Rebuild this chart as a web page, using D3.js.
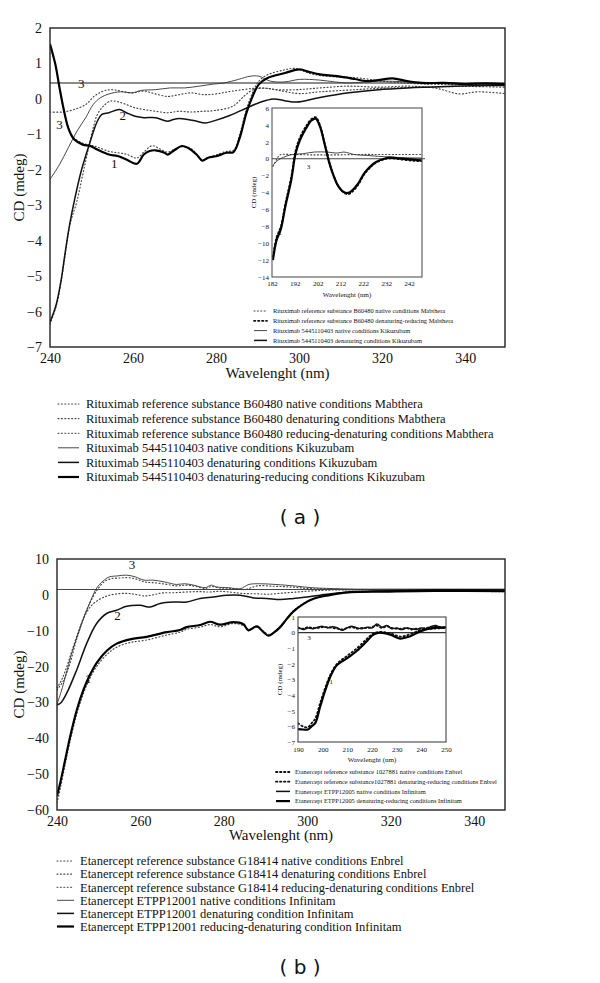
<!DOCTYPE html>
<html>
<head>
<meta charset="utf-8">
<script src="https://cdn.jsdelivr.net/npm/d3@7/dist/d3.min.js"></script>
<style>
  body { margin: 0; background: #fff; }
  svg text { font-family: "Liberation Serif", "DejaVu Serif", serif; fill: #111; }
</style>
</head>
<body>
<script>
// ---------- panel (a): rituximab, main spectra (wavelength nm, CD mdeg) ----------
const aMabNat = [[240,-0.37],[243,-0.37],[245.8,-0.3],[248.6,-0.16],[250.7,0.08],[252.8,0.22],[254.9,0.26],[257,0.22],[259.8,0.17],[262.6,0.22],[265.4,0.14],[268.3,0.07],[271.1,0.12],[273.9,0.17],[277,0.12],[280,0.14],[284,0.22],[291,0.31],[294.5,0.26],[299.4,0.26],[305,0.31],[312,0.36],[319.1,0.33],[326.1,0.36],[333,0.3],[338.6,0.14],[343,0.2],[349.6,0.15]];
const aMabDen = [[240,-6.35],[241.5,-5.85],[242.7,-5.15],[243.7,-4.35],[244.8,-3.55],[246.5,-2.88],[247.9,-2.13],[249.3,-1.38],[250.4,-0.82],[251.4,-0.44],[252.8,-0.21],[254.6,-0.06],[256.3,-0.08],[258.4,-0.16],[260.5,-0.25],[262.6,-0.3],[265.4,-0.35],[268.3,-0.39],[271.1,-0.35],[273.9,-0.37],[276.7,-0.35],[279.5,-0.33],[284,-0.21],[286.8,0.08],[288.9,0.26],[292,0.3],[296,0.22],[300,0.15],[305,0.2],[312,0.25],[320,0.3],[330,0.33],[340,0.35],[349.6,0.33]];
const aMabRedDen = [[240,1.5],[241.3,0.95],[242.3,0.3],[243.4,-0.35],[244.4,-0.8],[245.8,-1.1],[247.9,-1.25],[249.7,-1.3],[251.4,-1.36],[254.2,-1.48],[256.3,-1.52],[258.4,-1.56],[260.9,-1.67],[262.6,-1.5],[264.6,-1.32],[266.3,-1.4],[268.3,-1.5],[270.3,-1.4],[271.8,-1.35],[273.9,-1.4],[275.3,-1.55],[276.7,-1.72],[278.1,-1.65],[280,-1.58],[282.5,-1.48],[284.2,-1.45],[285.7,-1.0],[287.3,-0.3],[288.9,0.2],[290.3,0.5],[292.4,0.68],[296.6,0.82],[299,0.86],[302.5,0.72],[305,0.66],[309.2,0.62],[313.4,0.6],[317,0.55],[320,0.5],[325,0.45],[330,0.42],[340,0.4],[349.6,0.4]];
const aKikNat = [[240,-2.27],[242.3,-1.85],[244.4,-1.38],[246.5,-0.91],[248.6,-0.53],[250.4,-0.16],[252.1,0.03],[254.2,0.14],[257,0.2],[259.8,0.17],[262,0.24],[265.4,0.26],[269,0.31],[272.5,0.31],[276,0.36],[279.5,0.42],[282,0.45],[285.4,0.55],[288.2,0.64],[290.3,0.64],[293.1,0.5],[296.6,0.48],[300.1,0.55],[305,0.53],[308.5,0.48],[312,0.45],[319.1,0.5],[326.1,0.48],[335.2,0.43],[342,0.42],[349.6,0.4]];
const aKikDen = [[240,-6.3],[241.5,-5.8],[242.7,-5.1],[243.7,-4.3],[244.8,-3.5],[246,-2.8],[247.6,-2.0],[249.7,-1.2],[251.4,-0.63],[252.5,-0.44],[254.2,-0.39],[256.7,-0.3],[258.4,-0.39],[260.5,-0.49],[262.6,-0.53],[265.4,-0.53],[268.3,-0.63],[269.7,-0.58],[271.1,-0.55],[273.2,-0.58],[275.3,-0.63],[277.4,-0.68],[279.5,-0.62],[283.3,-0.47],[287.5,-0.25],[290.5,-0.1],[293.8,0.0],[296.5,-0.05],[299.4,-0.09],[304.7,0.03],[312,0.17],[319.1,0.26],[326.1,0.31],[335.2,0.35],[342,0.37],[349.6,0.38]];
const aKikDenRed = [[240,1.55],[241.3,0.97],[242.3,0.31],[243.4,-0.35],[244.4,-0.82],[245.8,-1.14],[247.9,-1.29],[249.7,-1.33],[251.4,-1.43],[254.2,-1.57],[256.3,-1.61],[258.4,-1.71],[260.9,-1.83],[262.6,-1.57],[264,-1.47],[265.4,-1.45],[267.6,-1.52],[268.3,-1.57],[269.7,-1.47],[271.8,-1.33],[273.2,-1.38],[275.3,-1.57],[276.7,-1.74],[278.1,-1.66],[280,-1.62],[282.5,-1.52],[284.2,-1.5],[285.7,-1.1],[287.3,-0.4],[288.9,0.1],[290.3,0.41],[292.4,0.59],[296.6,0.73],[300.1,0.83],[302.5,0.76],[305,0.69],[309.2,0.64],[313.4,0.56],[316.2,0.5],[319,0.53],[322.5,0.58],[326,0.5],[329.5,0.45],[335,0.45],[340,0.42],[345,0.44],[349.6,0.42]];
const aBaseline = 0.45;

// ---------- panel (a) inset ----------
const aInMabNat = [[182.4,-0.9],[184,-0.1],[185.5,0.45],[190,0.5],[200,0.45],[210,0.45],[220,0.5],[230,0.5],[240,0.5],[248.5,0.5]];
const aInMabDenRed = [[182.4,-11.6],[184,-9.3],[185.9,-8.0],[187.8,-5.4],[190.4,-2.2],[192.3,0.9],[194.2,2.5],[196.8,3.8],[199.3,4.7],[201.2,4.9],[203.1,3.9],[205,1.9],[207,-0.3],[208.9,-1.9],[210.8,-3.1],[213.4,-4.0],[215.3,-4.2],[217.2,-3.9],[219.7,-3.1],[222.3,-1.9],[224.8,-1.1],[227.4,-0.5],[231.2,-0.05],[233.8,0.05],[238.8,-0.1],[244,-0.25],[247.7,-0.3]];
const aInKikNat = [[182.4,-0.79],[184.5,-0.2],[187,0.16],[190.4,0.47],[195.5,0.59],[200.6,0.79],[205.7,0.79],[210.8,0.67],[213.4,0.79],[218.5,0.47],[223.6,0.39],[228.7,0.28],[233.8,0.2],[240.1,0.12],[247.7,0.08]];
const aInKikDenRed = [[182.4,-12.0],[184,-9.65],[185.9,-8.3],[187.8,-5.71],[190.4,-2.56],[192.3,0.59],[194.2,2.16],[196.8,3.54],[199.3,4.52],[201.2,4.72],[203.1,3.73],[205,1.77],[207,-0.4],[208.9,-1.97],[210.8,-3.15],[213.4,-3.94],[215.3,-4.05],[217.2,-3.74],[219.7,-2.95],[222.3,-1.77],[224.8,-1.0],[227.4,-0.4],[231.2,0],[233.8,0.12],[238.8,0.0],[244,-0.12],[247.7,-0.2]];

// ---------- panel (b): etanercept, main spectra ----------
const bEnbNat = [[240,-26],[241.2,-23.5],[242.5,-19.5],[243.6,-15.5],[245.5,-9.0],[247.6,-3.0],[249.7,1.5],[251.5,3.8],[253,4.5],[255,4.7],[257,4.8],[259,4.4],[261,3.6],[263,3.4],[266,3.0],[268.6,2.5],[271,2.7],[273,2.4],[275.5,1.8],[277,2.3],[279,1.9],[282,1.8],[285,1.5],[288,2.5],[292,2.4],[296,2.2],[300,1.8],[305,1.6],[312,1.4],[320,1.3],[333,1.3],[347.4,1.3]];
const bEnbDen = [[240,-26.5],[241.5,-24],[243,-19.5],[245,-11.3],[247.1,-4.8],[249.2,-2.0],[252,-0.3],[254.6,0.3],[257,0.4],[259,0.1],[261,-0.3],[263,0.0],[265,0.5],[268,0.6],[271,0.8],[274,0.9],[276.6,0.8],[279,1.0],[282,0.7],[285,0.36],[288,0.3],[290.6,0.17],[294,0.5],[297.6,0.8],[301,1.1],[304.6,1.3],[310,1.4],[320,1.4],[333,1.4],[347.4,1.4]];
const bEnbRedDen = [[240,-58],[240.8,-54],[242,-47],[243.2,-40.5],[244.8,-33],[246.4,-27.3],[248,-23],[249.6,-19.8],[252,-16.6],[254.3,-14.6],[257.5,-13.3],[261.5,-12.6],[266.3,-11.2],[269.5,-10.4],[271.1,-9.6],[274.3,-9.0],[276.7,-8.3],[279.1,-8.9],[282.3,-8.0],[284.7,-8.6],[285.9,-9.6],[287.9,-9.0],[289.5,-10.2],[290.7,-11.0],[291.9,-10.5],[293.5,-8.8],[295.1,-6.5],[296.7,-4.4],[299.1,-2.4],[301.5,-1.0],[304.7,0.0],[310.3,0.8],[318.3,1.0],[330.3,1.0],[347.4,0.9]];
const bInfNat = [[240,-30.5],[241,-27],[242.2,-22],[243.4,-16.8],[245.5,-9.4],[247.6,-2.9],[249.7,2.2],[251.5,4.3],[252.5,5.0],[254.6,5.3],[256.7,5.5],[258.8,5.0],[260.9,4.1],[263,4.1],[265.8,3.6],[268.6,2.9],[270.6,3.1],[272.8,2.7],[275.5,2.0],[277,2.7],[278.3,2.2],[281.1,2.0],[283.9,1.7],[286,2.9],[288.8,3.1],[292.3,2.9],[294.8,2.7],[297.6,2.4],[301.1,2.0],[304.6,1.8],[311.6,1.6],[318.5,1.6],[333,1.6],[347.4,1.6]];
const bInfDen = [[240,-30.7],[241,-30],[242.3,-27.5],[244.7,-21],[247.1,-13.6],[249.5,-8.0],[251.9,-5.2],[254.3,-4.3],[256.7,-3.2],[259.9,-2.9],[262.3,-3.4],[264.7,-2.4],[267.9,-2.0],[271.1,-2.0],[274.3,-1.0],[277.5,-0.6],[280.7,-0.1],[283.9,-0.1],[287.1,-0.85],[290.3,-1.0],[293.5,-1.3],[296.7,-1.0],[299.9,-0.6],[303.1,-0.1],[306.3,0.4],[314.3,0.9],[322.3,1.2],[330.3,1.4],[347.4,1.4]];
const bInfRedDen = [[240,-56],[240.8,-52.3],[242,-45.8],[243.2,-39.3],[244.8,-31.9],[246.4,-26.3],[248,-22.1],[249.6,-18.8],[252,-15.5],[254.3,-13.6],[257.5,-12.4],[261.5,-11.7],[266.3,-10.4],[269.5,-9.8],[271.1,-9.0],[274.3,-8.4],[276.7,-7.5],[279.1,-8.3],[282.3,-7.6],[284.7,-8.2],[285.9,-9.9],[287.9,-8.8],[289.5,-10.4],[290.7,-11.4],[291.9,-10.6],[293.5,-9.0],[295.1,-6.7],[296.7,-4.6],[299.1,-2.5],[301.5,-1.1],[304.7,-0.2],[310.3,0.74],[318.3,0.9],[330.3,1.1],[347.4,1.0]];
const bBaseline = 1.5;

// ---------- panel (b) inset ----------
const bInWl = [190,192,194,196,198,200,202,204,206,208,210,212,214,216,218,220,222,224,226,228,230,232,234,236,238,240,242,244,246,248,250];
const bInInfNatCd = [0.35,0.2,0.3,0.25,0.35,0.4,0.3,0.38,0.3,0.15,0.32,0.4,0.3,0.25,0.35,0.3,0.55,0.35,0.45,0.25,0.3,0.2,0.3,0.25,0.2,0.3,0.25,0.4,0.45,0.3,0.35];
const bInEnbNatCd = [0.3,0.25,0.35,0.3,0.3,0.35,0.35,0.3,0.25,0.2,0.3,0.35,0.25,0.3,0.3,0.35,0.45,0.3,0.4,0.3,0.25,0.25,0.3,0.2,0.25,0.25,0.3,0.35,0.4,0.35,0.3];
const bInInfRedDen = [[190,-6.17],[192,-6.2],[194,-6.2],[195.5,-6.0],[197,-5.79],[199,-4.73],[201.1,-3.67],[203.1,-2.82],[205.8,-2.08],[209.8,-1.65],[213.9,-1.16],[217.9,-0.55],[220.6,-0.13],[223.3,0.0],[227.4,-0.13],[231.4,-0.38],[235.5,-0.23],[239.5,0.08],[244.9,0.3],[250,0.34]];
const bInEnbRedDen = [[190,-5.8],[192,-6.0],[194,-6.05],[195.5,-5.8],[197,-5.5],[199,-4.5],[201.1,-3.5],[203.1,-2.7],[205.8,-2.0],[209.8,-1.5],[213.9,-1.0],[217.9,-0.4],[220.6,-0.05],[223.3,0.05],[227.4,-0.05],[231.4,-0.25],[235.5,-0.1],[239.5,0.15],[244.9,0.25],[250,0.3]];

// ---------- text ----------
const aLegend = [
  'Rituximab reference substance B60480 native conditions Mabthera',
  'Rituximab reference substance B60480 denaturing conditions Mabthera',
  'Rituximab reference substance B60480 reducing-denaturing conditions Mabthera',
  'Rituximab 5445110403 native conditions Kikuzubam',
  'Rituximab 5445110403 denaturing conditions Kikuzubam',
  'Rituximab 5445110403 denaturing-reducing conditions Kikuzubam'
];
const aInsetLegend = [
  'Rituximab reference substance B60480 native conditions Mabthera',
  'Rituximab reference substance B60480 denaturing-reducing Mabthera',
  'Rituximab 5445110403 native conditions Kikuzubam',
  'Rituximab 5445110403 denaturing conditions Kikuzubam'
];
const bLegend = [
  'Etanercept reference substance G18414 native conditions Enbrel',
  'Etanercept reference substance G18414 denaturing conditions Enbrel',
  'Etanercept reference substance G18414 reducing-denaturing conditions Enbrel',
  'Etanercept ETPP12001 native conditions Infinitam',
  'Etanercept ETPP12001 denaturing condition Infinitam',
  'Etanercept ETPP12001 reducing-denaturing condition Infinitam'
];
const bInsetLegend = [
  'Etanercept reference substance 1027881 native conditions Enbrel',
  'Etanercept reference substance1027881 denaturing-reducing conditions Enbrel',
  'Etanercept ETPP12005 native conditions Infinitam',
  'Etanercept ETPP12005 denaturing-reducing conditions Infinitam'
];

const SERIF = '"Liberation Serif", "DejaVu Serif", serif';

// line styles
const styles = {
  dot:      { w: 1.15, dash: '1,2.4', c: '#444' },
  dotBold:  { w: 1.8, dash: '1.4,2.6', c: '#111' },
  thin:     { w: 0.9, dash: null, c: '#333' },
  mid:      { w: 1.5, dash: null, c: '#111' },
  thick:    { w: 2.2, dash: null, c: '#000' }
};

const svg = d3.select('body').append('svg')
  .attr('width', 600).attr('height', 983);

let clipId = 0;

function drawPlot(o) {
  const x = d3.scaleLinear().domain(o.xDomain).range([o.left, o.right]);
  const y = d3.scaleLinear().domain(o.yDomain).range([o.bottom, o.top]);
  const g = svg.append('g');
  const id = 'clip' + (clipId++);
  g.append('clipPath').attr('id', id).append('rect')
    .attr('x', o.left).attr('y', o.top)
    .attr('width', o.right - o.left).attr('height', o.bottom - o.top);

  if (o.bg) {
    g.append('rect').attr('x', o.left).attr('y', o.top)
      .attr('width', o.right - o.left).attr('height', o.bottom - o.top)
      .attr('fill', '#fff');
  }

  // reference line
  g.append('line')
    .attr('x1', o.left).attr('x2', o.right + (o.lineOver || 0))
    .attr('y1', y(o.base)).attr('y2', y(o.base))
    .attr('stroke', o.baseColor || '#555').attr('stroke-width', o.baseW || 1.4);

  const line = d3.line().x(d => x(d[0])).y(d => y(d[1])).curve(d3.curveCatmullRom.alpha(0.5));
  const lines = g.append('g').attr('clip-path', `url(#${id})`);
  o.series.forEach(s => {
    const st = styles[s.style];
    lines.append('path').datum(s.data)
      .attr('d', line)
      .attr('fill', 'none')
      .attr('stroke', st.c)
      .attr('stroke-width', st.w)
      .attr('stroke-linecap', st.dash ? 'round' : 'butt')
      .attr('stroke-dasharray', st.dash);
  });

  g.append('rect').attr('x', o.left).attr('y', o.top)
    .attr('width', o.right - o.left).attr('height', o.bottom - o.top)
    .attr('fill', 'none').attr('stroke', o.frameColor || '#222').attr('stroke-width', o.frameW || 1.4);

  const xa = g.append('g').attr('transform', `translate(0,${o.bottom})`)
    .call(d3.axisBottom(x).tickValues(o.xTicks).tickSize(0).tickPadding(o.xPad).tickFormat(d3.format('d')));
  const ya = g.append('g').attr('transform', `translate(${o.left},0)`)
    .call(d3.axisLeft(y).tickValues(o.yTicks).tickSize(0).tickPadding(o.yPad));
  [xa, ya].forEach(a => {
    a.attr('font-family', null).attr('font-size', null);
    a.select('.domain').remove();
    a.selectAll('text').style('font-family', SERIF)
      .style('font-size', o.tickFont + 'px').attr('fill', '#111');
  });

  g.append('text')
    .attr('x', (o.left + o.right) / 2).attr('y', o.xTitleY)
    .attr('text-anchor', 'middle').style('font-size', o.titleFont + 'px')
    .text('Wavelenght (nm)');
  g.append('text')
    .attr('transform', `translate(${o.yTitleX},${(o.top + o.bottom) / 2}) rotate(-90)`)
    .attr('text-anchor', 'middle').style('font-size', o.titleFont + 'px')
    .text('CD (mdeg)');

  (o.marks || []).forEach(m => {
    g.append('text').attr('x', x(m[0])).attr('y', y(m[1]))
      .attr('text-anchor', 'middle').style('font-size', o.markFont + 'px')
      .text(m[2]);
  });
  return { x, y };
}

function drawLegend(items, styleKeys, o) {
  const g = svg.append('g');
  items.forEach((t, i) => {
    const yy = o.y0 + i * o.dy;
    const st = styles[styleKeys[i]];
    g.append('line').attr('x1', o.x0).attr('x2', o.x1)
      .attr('y1', yy).attr('y2', yy)
      .attr('stroke', st.c).attr('stroke-width', st.w)
      .attr('stroke-linecap', st.dash ? 'round' : 'butt')
      .attr('stroke-dasharray', st.dash);
    g.append('text').attr('x', o.tx).attr('y', yy).attr('dy', '0.35em')
      .style('font-size', o.font + 'px').text(t);
  });
}

// ===== panel (a) main =====
drawPlot({
  xDomain: [240, 349.6], yDomain: [-7, 2],
  left: 50, right: 505, top: 28, bottom: 347,
  xTicks: [240, 260, 280, 300, 320, 340], yTicks: d3.range(-7, 3),
  xPad: 6, yPad: 8, tickFont: 14, titleFont: 15, markFont: 13,
  xTitleY: 378, yTitleX: 24, base: aBaseline, baseColor: '#666', baseW: 1.6,
  series: [
    { data: aMabNat, style: 'dot' },
    { data: aMabDen, style: 'dot' },
    { data: aMabRedDen, style: 'dot' },
    { data: aKikNat, style: 'thin' },
    { data: aKikDen, style: 'mid' },
    { data: aKikDenRed, style: 'thick' }
  ],
  marks: [[247.5, 0.32, '3'], [242.3, -0.85, '3'], [257.5, -0.6, '2'], [255.5, -1.95, '1']]
});

// ===== panel (a) inset =====
drawPlot({
  xDomain: [182, 247.7], yDomain: [-14, 6],
  left: 272, right: 422, top: 108, bottom: 277,
  xTicks: [182, 192, 202, 212, 222, 232, 242], yTicks: d3.range(-14, 7, 2),
  xPad: 4, yPad: 3, tickFont: 7, titleFont: 7, markFont: 7,
  xTitleY: 297, yTitleX: 256, base: 0, baseColor: '#444', baseW: 1.1, lineOver: 3,
  frameColor: '#555', frameW: 1.1, bg: true,
  series: [
    { data: aInMabNat, style: 'dot' },
    { data: aInMabDenRed, style: 'dotBold' },
    { data: aInKikNat, style: 'thin' },
    { data: aInKikDenRed, style: 'thick' }
  ],
  marks: [[198, -1.2, '3'], [185.5, -9.0, '1']]
});

drawLegend(aInsetLegend, ['dot', 'dotBold', 'thin', 'mid'],
  { x0: 254, x1: 267, tx: 273, y0: 311, dy: 9.8, font: 6.4 });

drawLegend(aLegend, ['dot', 'dot', 'dot', 'thin', 'mid', 'thick'],
  { x0: 58, x1: 79, tx: 86, y0: 404, dy: 14.6, font: 12.5 });

svg.append('text').attr('x', 300).attr('y', 524).attr('text-anchor', 'middle')
  .style('font-family', '"DejaVu Sans", sans-serif').style('font-size', '20px').text('( a )');

// ===== panel (b) main =====
drawPlot({
  xDomain: [240, 347.4], yDomain: [-60, 10],
  left: 57, right: 505, top: 559, bottom: 810,
  xTicks: [240, 260, 280, 300, 320, 340], yTicks: d3.range(-60, 11, 10),
  xPad: 6, yPad: 8, tickFont: 14, titleFont: 15, markFont: 13,
  xTitleY: 840, yTitleX: 24, base: bBaseline, baseColor: '#444', baseW: 1.2,
  series: [
    { data: bEnbNat, style: 'dot' },
    { data: bEnbDen, style: 'dot' },
    { data: bEnbRedDen, style: 'dot' },
    { data: bInfNat, style: 'thin' },
    { data: bInfDen, style: 'mid' },
    { data: bInfRedDen, style: 'thick' }
  ],
  marks: [[258, 7.2, '3'], [254.5, -7.0, '2'], [247.5, -24.5, '1']]
});

// ===== panel (b) inset =====
const bInInfNat = bInWl.map((w, i) => [w, bInInfNatCd[i]]);
const bInEnbNat = bInWl.map((w, i) => [w, bInEnbNatCd[i]]);
drawPlot({
  xDomain: [190, 250], yDomain: [-7, 1],
  left: 298, right: 446, top: 617, bottom: 742,
  xTicks: d3.range(190, 251, 10), yTicks: d3.range(-7, 2),
  xPad: 5, yPad: 3, tickFont: 7, titleFont: 7, markFont: 7,
  xTitleY: 762, yTitleX: 282, base: 0, baseColor: '#333', baseW: 1.1,
  frameColor: '#444', frameW: 1.1, bg: true,
  series: [
    { data: bInEnbNat, style: 'dotBold' },
    { data: bInEnbRedDen, style: 'dotBold' },
    { data: bInInfNat, style: 'mid' },
    { data: bInInfRedDen, style: 'thick' }
  ],
  marks: [[194.5, -0.45, '3'], [203.5, -3.3, '1']]
});

drawLegend(bInsetLegend, ['dotBold', 'dotBold', 'mid', 'thick'],
  { x0: 276, x1: 290, tx: 295, y0: 772, dy: 9.7, font: 6.4 });

drawLegend(bLegend, ['dot', 'dot', 'dot', 'thin', 'mid', 'thick'],
  { x0: 57, x1: 74, tx: 80, y0: 861, dy: 13.1, font: 12.5 });

svg.append('text').attr('x', 300).attr('y', 974).attr('text-anchor', 'middle')
  .style('font-family', '"DejaVu Sans", sans-serif').style('font-size', '20px').text('( b )');
</script>
</body>
</html>
